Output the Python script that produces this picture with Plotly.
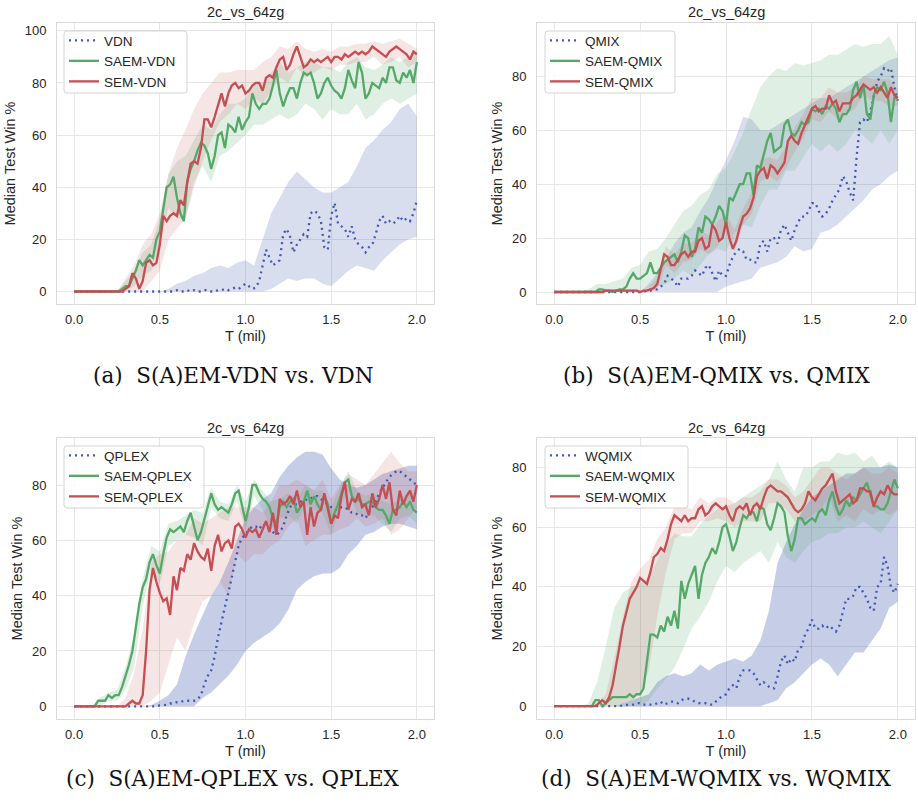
import plotly.graph_objects as go

# ---------------- data ----------------
# lines sampled every 0.02 mil (101 points), bands every 0.05 mil (41 points)
TITLE = "2c_vs_64zg"
X_TICKS = [0.0, 0.5, 1.0, 1.5, 2.0]
X_TICK_TEXT = ["0.0", "0.5", "1.0", "1.5", "2.0"]

# (a) VDN
vdn = [0]*29 + [0, 0.5, 0, 0, 0.5, 0, 0.5, 0, 0, 0.5, 0.5, 0, 0, 0.5, 0.5, 1, 0.5, 1, 1.5, 1, 2, 3, 2, 1, 1.5, 4,
                10, 16, 13, 10, 11, 12, 22, 24, 21, 15, 18, 20, 22, 21, 30, 31, 30, 27, 17, 16, 29, 34, 26, 25, 24, 21,
                25, 20, 18, 17, 15, 17, 18, 22, 27, 29, 26, 27, 26, 27, 29, 27, 28, 27, 30, 35]
saem_vdn = [0]*14 + [1, 2, 2, 5, 8, 12, 10, 12, 14, 13, 20, 23, 32, 40, 41, 44, 36, 30, 27, 42, 47, 50, 54, 57, 56, 53,
                     47, 52, 60, 61, 55, 64, 63, 61, 67, 62, 65, 67, 76, 72, 70, 72, 72, 74, 79, 85, 76, 71, 75, 78, 78,
                     74, 80, 84, 83, 84, 80, 74, 76, 80, 82, 79, 77, 76, 74, 78, 85, 81, 78, 88, 84, 74, 76, 80, 79, 78,
                     82, 80, 86, 86, 81, 80, 84, 82, 85, 80, 88]
sem_vdn = [0]*15 + [1, 2, 7, 5, 1, 4, 11, 12, 10, 11, 18, 29, 27, 29, 30, 29, 35, 33, 42, 49, 50, 49, 55, 66, 66, 63,
                    67, 72, 76, 71, 76, 79, 80, 78, 79, 76, 77, 79, 80, 80, 77, 82, 83, 82, 86, 89, 90, 85, 87, 91, 94,
                    90, 86, 87, 89, 88, 89, 88, 89, 90, 88, 90, 90, 89, 91, 90, 91, 92, 91, 92, 91, 92, 94, 93, 92, 91,
                    90, 92, 93, 94, 93, 92, 91, 89, 92, 91]
vdn_hi = [0]*11 + [1, 3, 4, 6, 7, 9, 10, 9, 11, 12, 10, 20, 30, 36, 42, 46, 43, 40, 38, 38, 40, 42, 48, 55, 58, 62, 65, 70, 72, 67]
vdn_lo = [0]*23 + [1, 3, 5, 4, 5, 5, 3, 2, 5, 8, 10, 9, 8, 12, 15, 18, 20, 21]
saem_vdn_hi = [0]*6 + [4, 8, 15, 18, 28, 45, 50, 52, 58, 64, 62, 68, 72, 72, 74, 80, 80, 84, 88, 84, 86, 88, 88, 86, 86, 84, 88, 90, 86, 85, 87, 90, 88, 90, 92]
saem_vdn_lo = [0]*7 + [2, 6, 8, 18, 32, 28, 28, 42, 48, 42, 52, 54, 57, 60, 64, 64, 66, 68, 66, 68, 72, 70, 66, 70, 68, 68, 72, 66, 68, 72, 74, 72, 74, 76]
sem_vdn_hi = [0]*6 + [5, 10, 18, 22, 30, 45, 55, 62, 70, 76, 80, 84, 84, 85, 85, 85, 88, 90, 94, 93, 96, 93, 92, 93, 92, 94, 94, 95, 95, 96, 95, 96, 97, 95, 93]
sem_vdn_lo = [0]*8 + [0, 4, 8, 20, 24, 28, 40, 50, 58, 65, 68, 72, 70, 74, 72, 77, 82, 80, 86, 82, 84, 86, 85, 87, 87, 88, 88, 90, 87, 88, 90, 86, 88]

# (b) QMIX
qmix = [0]*27 + [0.5, 0.5, 1, 1, 2, 3, 6, 5, 4, 2, 5, 5, 5, 6, 8, 7, 6, 9, 10, 7, 4, 8, 6, 6, 10, 13, 15, 16, 15, 12, 12,
                 11, 11, 18, 19, 15, 20, 20, 18, 23, 25, 22, 19, 23, 26, 28, 28, 30, 33, 33, 30, 28, 29, 31, 34, 36, 38,
                 43, 41, 37, 34, 50, 63, 64, 63, 67, 73, 78, 80, 83, 82, 83, 76, 71]
saem_qmix = [0]*13 + [1, 1, 0.5, 0.5, 0, 0.5, 1, 1, 2, 5, 7, 5, 5, 6, 7, 11, 7, 7, 9, 11, 12, 13, 14, 11, 15, 21, 20, 13,
                      16, 24, 22, 28, 27, 25, 28, 32, 30, 25, 35, 34, 37, 40, 40, 44, 44, 36, 47, 46, 51, 56, 59, 52, 53,
                      54, 62, 64, 59, 58, 60, 63, 62, 63, 68, 67, 68, 66, 69, 68, 70, 68, 63, 66, 66, 68, 75, 78, 72, 77,
                      66, 64, 73, 76, 75, 78, 74, 63, 72, 72]
sem_qmix = [0]*15 + [0.5]*10 + [0, 0.5, 0.5, 1, 1.5, 3, 8, 14, 13, 10, 10, 12, 14, 15, 13, 15, 15, 19, 20, 16, 17, 25, 23,
                                19, 20, 26, 20, 16, 19, 24, 28, 29, 31, 35, 43, 45, 46, 42, 47, 46, 44, 46, 48, 56, 58, 56,
                                55, 59, 62, 65, 68, 69, 67, 68, 68, 73, 70, 71, 67, 70, 70, 70, 72, 73, 75, 77, 76, 75, 76,
                                74, 76, 74, 72, 76, 73, 72]
qmix_hi = [0]*11 + [3, 7, 12, 18, 22, 24, 30, 35, 42, 49, 56, 65, 64, 60, 60, 62, 64, 66, 68, 70, 72, 72, 74, 76, 78, 80, 82, 84, 86, 87]
qmix_lo = [0]*20 + [2, 3, 4, 5, 9, 10, 11, 13, 17, 15, 16, 22, 23, 25, 28, 31, 34, 38, 40, 43, 45]
saem_qmix_hi = [0]*4 + [1, 3, 3, 4, 5, 9, 10, 15, 16, 20, 25, 30, 32, 36, 38, 44, 46, 52, 59, 68, 76, 80, 83, 82, 85, 84, 85, 86, 88, 88, 90, 92, 91, 92, 92, 95, 88]
saem_qmix_lo = [0]*10 + [1, 2, 2, 3, 5, 8, 6, 10, 14, 16, 15, 22, 25, 24, 32, 38, 38, 45, 45, 50, 55, 52, 55, 52, 55, 60, 58, 55, 60, 55, 60]
sem_qmix_hi = [0]*6 + [1, 1, 1, 1, 1, 2, 5, 17, 14, 18, 18, 23, 21, 26, 29, 23, 31, 37, 49, 50, 49, 54, 61, 66, 72, 72, 76, 74, 74, 76, 80, 79, 79, 79, 75]
sem_qmix_lo = [0]*12 + [1, 10, 7, 11, 12, 16, 14, 17, 22, 15, 25, 29, 41, 43, 41, 46, 52, 57, 64, 63, 67, 64, 66, 68, 73, 71, 71, 69, 69]

# (c) QPLEX
qplex = [0]*25 + [0.3, 0.5, 0.5, 1, 1, 1.5, 1.5, 2, 2, 2, 2, 2.5, 4, 8, 11, 13, 18, 25, 31, 36, 41, 47, 53, 58, 61, 62,
                  64, 65, 65, 64, 66, 65, 64, 63, 62, 63, 65, 69, 72, 73, 73, 74, 74, 75, 75, 76, 76, 75, 74, 73, 72, 71,
                  71, 72, 72, 71, 70, 70, 69, 69, 68, 70, 72, 74, 77, 79, 81, 83, 84, 85, 85, 84, 83, 82, 81, 80]
saem_qplex = [0]*7 + [2, 2, 2, 4, 3, 4, 4, 7, 11, 15, 20, 29, 37, 43, 46, 52, 55, 51, 48, 55, 61, 64, 63, 64, 65, 63, 67,
                      70, 65, 60, 63, 68, 72, 77, 73, 71, 72, 71, 70, 73, 77, 78, 73, 67, 72, 80, 80, 77, 75, 74, 72, 68,
                      66, 72, 74, 72, 74, 75, 70, 72, 74, 78, 73, 76, 73, 71, 76, 73, 66, 70, 73, 77, 81, 82, 76, 74, 75,
                      73, 73, 74, 74, 72, 71, 71, 69, 66, 71, 71, 72, 74, 72, 74, 71, 70]
sem_qplex = [0]*16 + [1, 2, 1, 1, 4, 20, 42, 50, 45, 41, 38, 39, 33, 47, 42, 50, 49, 55, 53, 59, 56, 54, 53, 57, 49, 58,
                      62, 56, 59, 60, 57, 65, 66, 64, 61, 64, 63, 64, 61, 64, 67, 63, 70, 62, 75, 73, 74, 76, 73, 78, 72,
                      74, 62, 72, 65, 70, 71, 77, 71, 66, 69, 68, 76, 81, 71, 75, 74, 77, 72, 73, 69, 77, 72, 75, 80, 75,
                      81, 71, 69, 78, 73, 76, 78, 74, 80]
qplex_hi = [0]*9 + [0.5, 2, 4, 8, 18, 26, 33, 40, 45, 52, 60, 68, 72, 75, 77, 83, 87, 90, 92, 92, 91, 86, 82, 80, 79, 80, 82, 84, 85, 86, 87, 87]
qplex_lo = [0]*15 + [3, 5, 8, 11, 15, 20, 23, 25, 27, 30, 35, 42, 45, 47, 48, 48, 50, 55, 58, 62, 63, 65, 66, 66, 65, 64]
saem_qplex_hi = [0]*3 + [3, 5, 6, 14, 26, 46, 58, 56, 66, 67, 69, 71, 70, 79, 74, 73, 80, 74, 82, 78, 74, 75, 77, 75, 80, 78, 78, 72, 79, 85, 78, 76, 77, 74, 73, 75, 77, 74]
saem_qplex_lo = [0]*4 + [2, 2, 6, 14, 36, 50, 44, 58, 60, 62, 61, 58, 72, 68, 67, 74, 64, 76, 71, 64, 68, 69, 66, 73, 71, 70, 62, 72, 78, 70, 69, 69, 66, 63, 68, 69, 66]
sem_qplex_hi = [0]*6 + [3, 12, 28, 52, 55, 56, 60, 62, 68, 66, 68, 70, 72, 72, 72, 72, 70, 74, 80, 80, 82, 80, 78, 82, 75, 80, 84, 82, 80, 84, 88, 92, 88, 85, 85]
sem_qplex_lo = [0]*9 + [2, 5, 15, 25, 20, 30, 38, 40, 45, 40, 55, 52, 55, 55, 58, 60, 65, 68, 58, 60, 62, 62, 64, 65, 68, 65, 66, 68, 62, 64, 68, 72]

# (d) WQMIX
wqmix = [0]*20 + [0.3, 0.5, 0.5, 0.5, 1, 1, 0.5, 0.5, 0.5, 0.5, 1, 1.5, 0.5, 1, 1.5, 1.5, 1, 2, 2.5, 2.5, 2, 1.5, 1, 1,
                  1, 0.5, 0.5, 1.5, 2.5, 3.5, 4, 6, 7, 6, 10, 12, 12, 12, 11, 9, 7, 8, 7, 6, 6, 10, 15, 17, 14, 16, 15,
                  19, 20, 24, 26, 29, 26, 26, 27, 26, 27, 26, 25, 27, 32, 36, 36, 37, 40, 40, 38, 36, 33, 32, 40, 41,
                  50, 47, 40, 38, 41]
saem_wqmix = [0]*12 + [2, 2, 0, 1, 2, 3, 3, 3, 3, 3, 4, 3, 4, 4, 6, 15, 24, 24, 23, 27, 25, 30, 27, 32, 26, 42, 36, 41,
                       44, 47, 36, 44, 48, 50, 53, 51, 55, 60, 61, 57, 52, 55, 60, 64, 63, 65, 65, 62, 67, 66, 61, 59,
                       63, 68, 67, 65, 57, 52, 56, 63, 63, 61, 62, 63, 62, 65, 66, 64, 69, 72, 67, 64, 66, 69, 67, 70,
                       69, 71, 73, 75, 71, 67, 67, 66, 66, 68, 72, 76, 73]
sem_wqmix = [0]*13 + [1, 2, 1, 3, 7, 13, 20, 27, 32, 36, 38, 40, 43, 42, 41, 45, 50, 51, 53, 52, 56, 61, 64, 63, 62, 64,
                      62, 63, 63, 66, 67, 64, 65, 67, 68, 67, 66, 67, 64, 62, 66, 67, 66, 68, 64, 67, 68, 66, 70, 73,
                      74, 73, 72, 72, 71, 70, 68, 66, 65, 66, 68, 72, 70, 69, 71, 73, 74, 76, 78, 72, 68, 69, 70, 71,
                      68, 69, 73, 73, 72, 72, 67, 70, 72, 71, 74, 72, 71, 71]
wqmix_hi = [0]*8 + [1, 2, 3, 4, 8, 10, 11, 10, 11, 14, 12, 14, 15, 16, 15, 17, 22, 32, 48, 55, 61, 66, 70, 72, 74, 76, 78, 78, 80, 80, 80, 81, 80]
wqmix_lo = [0]*25 + [1, 2, 6, 8, 11, 14, 16, 14, 10, 14, 18, 18, 22, 26, 33, 35]
saem_wqmix_hi = [0]*4 + [1, 8, 20, 33, 38, 40, 41, 43, 49, 54, 58, 57, 57, 61, 64, 66, 67, 68, 70, 72, 74, 76, 82, 76, 72, 80, 80, 82, 82, 85, 84, 85, 82, 84, 80, 82, 80]
saem_wqmix_lo = [0]*11 + [2, 6, 9, 13, 19, 26, 30, 35, 42, 47, 45, 48, 50, 52, 48, 55, 50, 48, 52, 55, 56, 58, 58, 60, 60, 62, 60, 58, 62, 66]
sem_wqmix_hi = [0]*5 + [1, 4, 16, 30, 42, 46, 49, 56, 60, 67, 67, 66, 70, 68, 70, 70, 68, 70, 70, 72, 76, 76, 74, 70, 72, 76, 80, 80, 78, 76, 78, 80, 78, 78, 80, 78]
sem_wqmix_lo = [0]*8 + [1, 2, 4, 12, 30, 45, 56, 58, 58, 62, 62, 63, 62, 60, 62, 62, 62, 68, 68, 66, 62, 62, 64, 66, 70, 62, 64, 62, 66, 64, 66, 64, 66]

PANELS = [
    dict(base="VDN", lines=[vdn, saem_vdn, sem_vdn],
         bands=[(vdn_lo, vdn_hi), (saem_vdn_lo, saem_vdn_hi), (sem_vdn_lo, sem_vdn_hi)],
         yticks=[0, 20, 40, 60, 80, 100], yrange=[-4.8, 103], caption="(a)  S(A)EM-VDN vs. VDN", balpha=0.2),
    dict(base="QMIX", lines=[qmix, saem_qmix, sem_qmix],
         bands=[(qmix_lo, qmix_hi), (saem_qmix_lo, saem_qmix_hi), (sem_qmix_lo, sem_qmix_hi)],
         yticks=[0, 20, 40, 60, 80], yrange=[-4.45, 99.8], caption="(b)  S(A)EM-QMIX vs. QMIX", balpha=0.2),
    dict(base="QPLEX", lines=[qplex, saem_qplex, sem_qplex],
         bands=[(qplex_lo, qplex_hi), (saem_qplex_lo, saem_qplex_hi), (sem_qplex_lo, sem_qplex_hi)],
         yticks=[0, 20, 40, 60, 80], yrange=[-4.6, 97], caption="(c)  S(A)EM-QPLEX vs. QPLEX", balpha=0.3),
    dict(base="WQMIX", lines=[wqmix, saem_wqmix, sem_wqmix],
         bands=[(wqmix_lo, wqmix_hi), (saem_wqmix_lo, saem_wqmix_hi), (sem_wqmix_lo, sem_wqmix_hi)],
         yticks=[0, 20, 40, 60, 80], yrange=[-4.3, 89.9], caption="(d)  S(A)EM-WQMIX vs. WQMIX", balpha=0.3),
]

# ---------------- style / layout ----------------
W, H = 918, 803
COLORS = [(67, 88, 176), (85, 168, 104), (196, 78, 82)]
BAND_ALPHA = [None, 0.18, 0.15]
SANS = "Liberation Sans, Arial, Helvetica, sans-serif"
SERIF = "DejaVu Serif, Liberation Serif, serif"
TXT = "#262626"

# pixel boxes (left, top, right, bottom) of each plot frame
BOXES = [(57, 23, 434, 304), (537, 23, 915, 304), (57, 438, 434, 719), (537, 438, 915, 719)]
LEGEND_BOX = [(64, 31, 187, 93), (545, 31, 675, 93), (64, 446, 204, 508), (545, 446, 688, 508)]
TITLE_Y = [12, 428]
CAPTION_Y = [375, 778]
CAPTION_X = [233, 716]

for i, p in enumerate(PANELS):
    for arr in p["lines"]:
        assert len(arr) == 101, (p["base"], len(arr))
    for lo, hi in p["bands"]:
        assert len(lo) == 41 and len(hi) == 41, (p["base"], len(lo), len(hi))

xl = [round(i * 0.02, 2) for i in range(101)]
xb = [round(i * 0.05, 2) for i in range(41)]


def rounded_rect(x0, y0, x1, y1, r=3):
    # pixel coordinates -> paper fractions path
    def P(x, y):
        return f"{x / W:.5f},{1 - y / H:.5f}"
    return (f"M {P(x0 + r, y0)} L {P(x1 - r, y0)} Q {P(x1, y0)} {P(x1, y0 + r)} "
            f"L {P(x1, y1 - r)} Q {P(x1, y1)} {P(x1 - r, y1)} L {P(x0 + r, y1)} "
            f"Q {P(x0, y1)} {P(x0, y1 - r)} L {P(x0, y0 + r)} Q {P(x0, y0)} {P(x0 + r, y0)} Z")


fig = go.Figure()
layout = dict(width=W, height=H, margin=dict(l=0, r=0, t=0, b=0),
              paper_bgcolor="white", plot_bgcolor="white", font=dict(family=SANS, color=TXT),
              annotations=[], shapes=[], showlegend=True)

for k, p in enumerate(PANELS):
    ax = "" if k == 0 else str(k + 1)
    xa, ya = "x" + ax, "y" + ax
    leg = "legend" if k == 0 else "legend" + str(k + 1)
    names = [p["base"], "SAEM-" + p["base"], "SEM-" + p["base"]]
    for j in range(3):
        lo, hi = p["bands"][j]
        r, g, b = COLORS[j]
        a = p["balpha"] if j == 0 else BAND_ALPHA[j]
        fig.add_trace(go.Scatter(x=xb + xb[::-1], y=hi + lo[::-1], fill="toself",
                                 fillcolor=f"rgba({r},{g},{b},{a})", line=dict(width=0),
                                 mode="lines", hoverinfo="skip", showlegend=False,
                                 xaxis=xa, yaxis=ya))
    for j in range(3):
        r, g, b = COLORS[j]
        if j == 0:
            line = dict(color=f"rgb({r},{g},{b})", width=2.3, dash="2px,4px")
        else:
            line = dict(color=f"rgb({r},{g},{b})", width=2.3)
        fig.add_trace(go.Scatter(x=xl, y=p["lines"][j], mode="lines", name=names[j], line=line,
                                 xaxis=xa, yaxis=ya, legend=leg))

    l, t, r_, b_ = BOXES[k]
    xdom = [l / W, r_ / W]
    ydom = [1 - b_ / H, 1 - t / H]
    common = dict(showgrid=True, gridcolor="#e6e6e6", gridwidth=1, showline=True, mirror=True,
                  linecolor="#dadada", linewidth=1, zeroline=False, ticks="",
                  tickfont=dict(family=SANS, size=13, color=TXT))
    layout["xaxis" + ax] = dict(domain=xdom, range=[-0.1, 2.1], tickvals=X_TICKS, ticktext=X_TICK_TEXT,
                                anchor=ya, ticklabelstandoff=3,
                                title=dict(text="T (mil)", font=dict(family=SANS, size=14.5, color=TXT), standoff=5),
                                **common)
    layout["yaxis" + ax] = dict(domain=ydom, range=p["yrange"], tickvals=p["yticks"], anchor=xa,
                                ticklabelstandoff=7,
                                title=dict(text="Median Test Win %", font=dict(family=SANS, size=14.5, color=TXT),
                                           standoff=5),
                                **common)
    lx0, ly0, lx1, ly1 = LEGEND_BOX[k]
    layout["shapes"].append(dict(type="path", xref="paper", yref="paper", path=rounded_rect(lx0, ly0, lx1, ly1),
                                 fillcolor="rgba(255,255,255,0.85)", line=dict(color="#d4d4d4", width=1),
                                 layer="above"))
    layout[leg] = dict(x=lx0 / W, y=1 - (ly0 - 6) / H, xanchor="left", yanchor="top",
                       bgcolor="rgba(0,0,0,0)", borderwidth=0,
                       font=dict(family=SANS, size=13.5, color=TXT), tracegroupgap=0, itemwidth=30)
    cx = (l + r_) / 2 / W
    row = k // 2
    layout["annotations"].append(dict(text=TITLE, x=cx, y=1 - TITLE_Y[row] / H, xref="paper", yref="paper",
                                      showarrow=False, xanchor="center", yanchor="middle",
                                      font=dict(family=SANS, size=14.5, color=TXT)))
    capx = CAPTION_X[k % 2] / W
    layout["annotations"].append(dict(text=p["caption"], x=capx, y=1 - CAPTION_Y[row] / H, xref="paper",
                                      yref="paper", showarrow=False, xanchor="center", yanchor="middle",
                                      font=dict(family=SERIF, size=21.5, color="#111111")))

fig.update_layout(**layout)
fig.write_html("out.html")
